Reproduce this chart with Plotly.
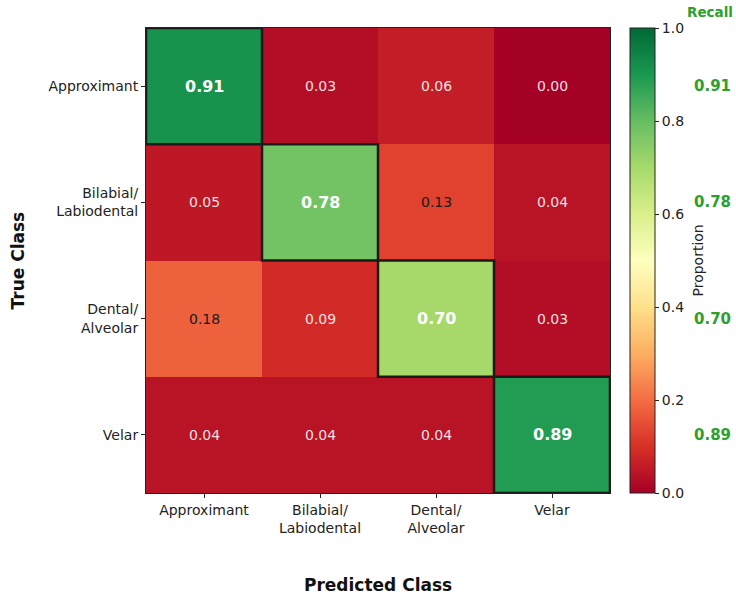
import plotly.graph_objects as go

# Confusion matrix (row-normalised proportions): rows = true class, cols = predicted class
class_labels = ["Approximant", "Bilabial/<br>Labiodental", "Dental/<br>Alveolar", "Velar"]
proportions = [
    [0.91, 0.03, 0.06, 0.00],
    [0.05, 0.78, 0.13, 0.04],
    [0.18, 0.09, 0.70, 0.03],
    [0.04, 0.04, 0.04, 0.89],
]
recall = [0.91, 0.78, 0.70, 0.89]
cbar_ticks = [0.0, 0.2, 0.4, 0.6, 0.8, 1.0]

n = len(class_labels)
idx = list(range(n))
FONT = "DejaVu Sans"
GREEN = "#2ca02c"

fig = go.Figure(
    go.Heatmap(
        z=proportions,
        x=idx,
        y=idx,
        zmin=0,
        zmax=1,
        colorscale="RdYlGn",
        showscale=True,
        hoverinfo="skip",
        colorbar=dict(
            thickness=25,
            len=1.0,
            lenmode="fraction",
            y=0.5,
            yanchor="middle",
            x=1.043,
            xanchor="left",
            xpad=0,
            ypad=0,
            outlinecolor="#222",
            outlinewidth=1,
            tickvals=cbar_ticks,
            ticktext=[f"{t:.1f}" for t in cbar_ticks],
            ticks="outside",
            ticklen=4,
            tickcolor="#222",
            tickfont=dict(family=FONT, size=14, color="#222"),
        ),
    )
)

annotations = []
shapes = []
for i in idx:
    for j in idx:
        v = proportions[i][j]
        if i == j:
            annotations.append(dict(
                x=j, y=i, xref="x", yref="y", text=f"<b>{v:.2f}</b>", showarrow=False,
                font=dict(family=FONT, size=16, color="white"),
            ))
            shapes.append(dict(
                type="rect", xref="x", yref="y",
                x0=j - 0.5, x1=j + 0.5, y0=i - 0.5, y1=i + 0.5,
                line=dict(color="#1a1a1a", width=2.5), fillcolor="rgba(0,0,0,0)",
            ))
        else:
            color = "#1a1a1a" if v > 0.1 else "rgba(255,255,255,0.88)"
            annotations.append(dict(
                x=j, y=i, xref="x", yref="y", text=f"{v:.2f}", showarrow=False,
                font=dict(family=FONT, size=14, color=color),
            ))

# Recall column to the right of the colour bar
annotations.append(dict(
    x=1.2155, y=1.035, xref="paper", yref="paper", text="<b>Recall</b>", showarrow=False,
    xanchor="center", yanchor="middle",
    font=dict(family=FONT, size=13.5, color=GREEN),
))
for i, r in enumerate(recall):
    annotations.append(dict(
        x=1.22, y=i, xref="paper", yref="y", text=f"<b>{r:.2f}</b>", showarrow=False,
        xanchor="center", yanchor="middle",
        font=dict(family=FONT, size=15, color=GREEN),
    ))

annotations += [
    dict(x=1.1875, y=0.5, xref="paper", yref="paper", text="Proportion", textangle=-90,
         xanchor="center", yanchor="middle",
         showarrow=False, font=dict(family=FONT, size=14, color="#222")),
    dict(x=-0.276, y=0.5, xref="paper", yref="paper", text="<b>True Class</b>", textangle=-90,
         xanchor="center", yanchor="middle",
         showarrow=False, font=dict(family=FONT, size=17, color="#111")),
    dict(x=0.5, y=-0.198, xref="paper", yref="paper", text="<b>Predicted Class</b>",
         xanchor="center", yanchor="middle",
         showarrow=False, font=dict(family=FONT, size=17, color="#111")),
]

fig.update_layout(
    width=736,
    height=597,
    margin=dict(l=146, r=126, t=28, b=104),
    paper_bgcolor="white",
    plot_bgcolor="white",
    font=dict(family=FONT, size=14, color="#222"),
    annotations=annotations,
    shapes=shapes,
    xaxis=dict(
        tickvals=idx, ticktext=class_labels, range=[-0.5, n - 0.5],
        showgrid=False, zeroline=False, ticks="outside", ticklen=4, tickcolor="#222",
        showline=True, mirror=True, linecolor="#222", linewidth=1,
        tickfont=dict(family=FONT, size=14, color="#222"),
    ),
    yaxis=dict(
        tickvals=idx, ticktext=class_labels, range=[n - 0.5, -0.5],
        showgrid=False, zeroline=False, ticks="outside", ticklen=4, tickcolor="#222",
        showline=True, mirror=True, linecolor="#222", linewidth=1,
        tickfont=dict(family=FONT, size=14, color="#222"),
    ),
)

fig.write_html("out.html")
